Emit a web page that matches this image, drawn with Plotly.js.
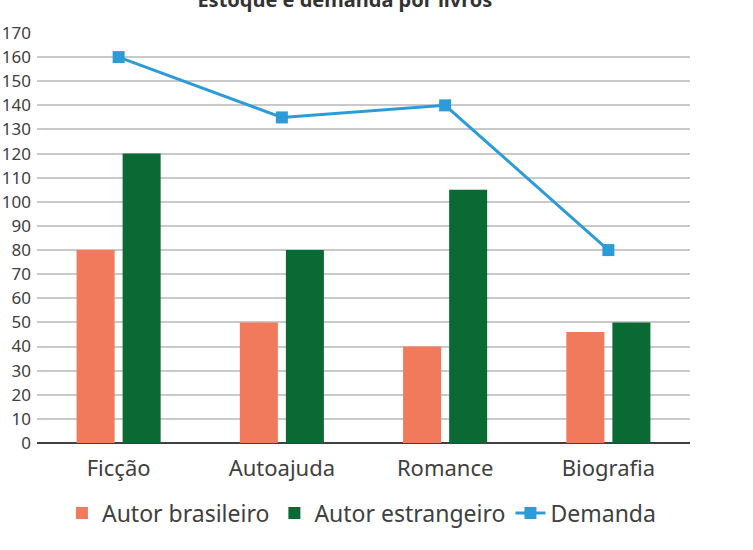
<!DOCTYPE html>
<html>
<head>
<meta charset="utf-8">
<script src="https://cdn.plot.ly/plotly-3.0.1.min.js"></script>
<style>
  html, body { margin: 0; padding: 0; background: #fff; }
  #chart { width: 753px; height: 550px; }
</style>
</head>
<body>
<div id="chart"></div>
<script>
const categories = ["Ficção", "Autoajuda", "Romance", "Biografia"];
const autorBrasileiro = [80, 50, 40, 46];
const autorEstrangeiro = [120, 80, 105, 50];
const demanda = [160, 135, 140, 80];
const yTicks = [0, 10, 20, 30, 40, 50, 60, 70, 80, 90, 100, 110, 120, 130, 140, 150, 160, 170];

const FONT = "'Noto Sans', 'Open Sans', sans-serif";
const TEXT = "#404040";

const traces = [
  {
    type: "bar",
    name: "Autor brasileiro",
    x: categories,
    y: autorBrasileiro,
    marker: { color: "#F07A5B" },
  },
  {
    type: "bar",
    name: "Autor estrangeiro",
    x: categories,
    y: autorEstrangeiro,
    marker: { color: "#0B6A34" },
  },
  {
    type: "scatter",
    mode: "lines+markers",
    name: "Demanda",
    x: categories,
    y: demanda,
    line: { color: "#2E9BD9", width: 3 },
    marker: { color: "#2E9BD9", size: 12, symbol: "square" },
  },
];

const layout = {
  width: 753,
  height: 550,
  title: {
    text: "Estoque e demanda por livros",
    font: { family: FONT, size: 20, color: "#333", weight: "bold" },
    x: 0.458,
    xanchor: "center",
    y: 1,
    yref: "container",
    yanchor: "middle",
  },
  margin: { l: 37, r: 63, t: 33, b: 107, autoexpand: false },
  font: { family: FONT, color: TEXT },
  barmode: "group",
  bargap: 0.436,
  bargroupgap: 0.174,
  plot_bgcolor: "#ffffff",
  paper_bgcolor: "#ffffff",
  xaxis: {
    type: "category",
    tickfont: { size: 22, color: TEXT },
    ticklabelstandoff: 10,
    showgrid: false,
    showline: false,
    ticks: "",
    zeroline: false,
  },
  yaxis: {
    range: [0, 170],
    tickvals: yTicks,
    ticktext: yTicks.map(String),
    tickfont: { size: 17, color: TEXT },
    ticklabelstandoff: 5,
    showgrid: true,
    gridcolor: "#c9c9c9",
    gridwidth: 2,
    zeroline: true,
    zerolinecolor: "#404040",
    zerolinewidth: 2.5,
    ticks: "",
    automargin: false,
  },
  legend: {
    orientation: "h",
    x: 0.48,
    xanchor: "center",
    xref: "container",
    y: 0.067,
    yanchor: "middle",
    yref: "container",
    font: { size: 23, color: TEXT },
    itemwidth: 30,
    traceorder: "normal",
  },
  showlegend: true,
};

Plotly.newPlot("chart", traces, layout, { displayModeBar: false, staticPlot: true });
</script>
</body>
</html>
